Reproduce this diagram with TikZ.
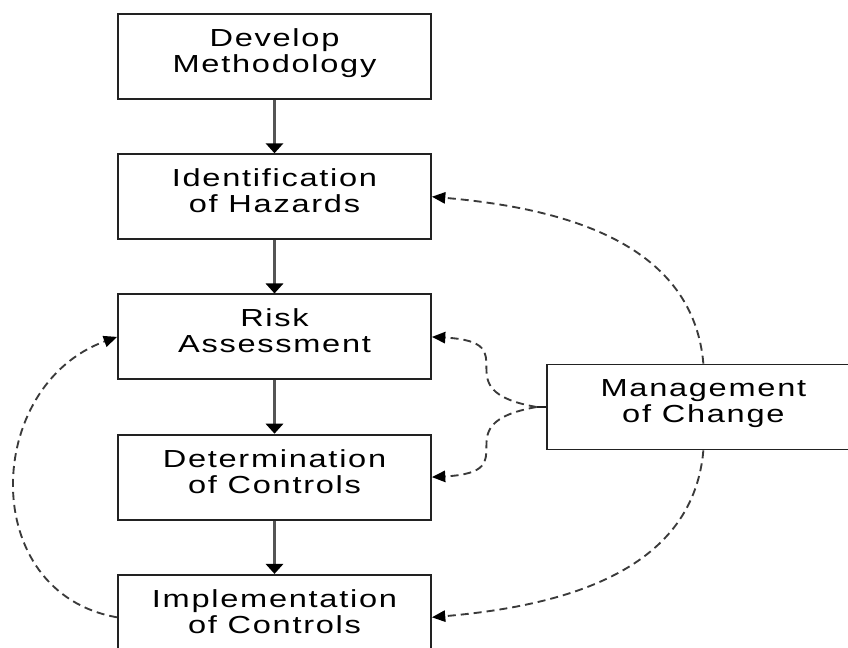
\documentclass[tikz,border=0pt]{standalone}
\usepackage{fontspec}
\newfontfamily\boxfont[FakeStretch=1.32,LetterSpace=7]{Liberation Sans}
\usetikzlibrary{arrows.meta,positioning,calc}
\definecolor{edge}{HTML}{222222}
\definecolor{shaft}{HTML}{555555}
\definecolor{dashline}{HTML}{3A3A3A}
\tikzset{
  stepbox/.style={draw=edge, line width=1.4pt, fill=white, align=center, inner sep=0pt,
    minimum width=234.75pt, minimum height=63.75pt, text depth=9pt,
    font=\boxfont\fontsize{18.5pt}{19.5pt}\selectfont},
  flow/.style={-{Triangle[length=7.5pt,width=13pt,color=black]}, shaft, line width=1.8pt},
  change/.style={-{Triangle[length=10pt,width=8.5pt,color=black]}, dashline, line width=1.4pt,
    dash pattern=on 6pt off 3.75pt},
}

\begin{document}
\begin{tikzpicture}[node distance=40pt]
  % frame, the last boxes run past it
  \useasboundingbox (-205.875pt,42.375pt) rectangle (430.125pt,-442.875pt);
  \clip (-205.875pt,42.375pt) rectangle (430.125pt,-442.875pt);

  \node[stepbox] (dev) at (0,0) {Develop\\Methodology};
  \node[stepbox, below=of dev] (haz) {Identification\\of Hazards};
  \node[stepbox, below=of haz] (risk) {Risk\\Assessment};
  \node[stepbox, below=of risk] (ctrl) {Determination\\of Controls};
  \node[stepbox, below=of ctrl] (impl) {Implementation\\of Controls};
  \node[stepbox, anchor=west] (moc) at ($(risk.east)!0.5!(ctrl.east)+(85.5pt,0)$) {Management\\of Change};

  % main sequence
  \foreach \a/\b in {dev/haz, haz/risk, risk/ctrl, ctrl/impl}
    \draw[flow] (\a) -- (\b);

  % management of change feeds back
  \coordinate (split) at ($(moc.west)+(-7pt,0)$);
  \draw[edge, line width=1.4pt] (moc.west) -- (split);
  \draw[change] (split) to[out=170, in=-3, looseness=2] (risk.east);
  \draw[change] (split) to[out=-170, in=3, looseness=2] (ctrl.east);
  \draw[change] (moc.north) to[out=95, in=-5] (haz.east);
  \draw[change] (moc.south) to[out=-95, in=5] (impl.east);

  % loop back to assessment
  \draw[change] (impl.west) to[out=170, in=-160, looseness=1.3] (risk.west);
\end{tikzpicture}
\end{document}
